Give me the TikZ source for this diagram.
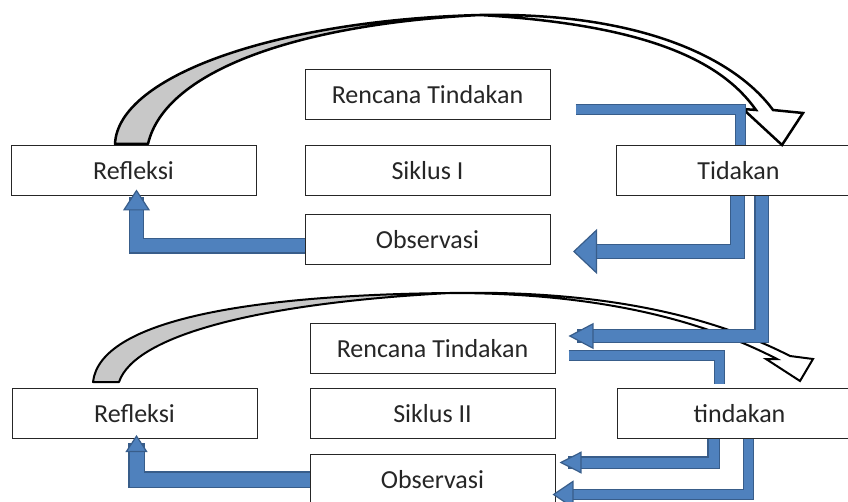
\documentclass[tikz,border=0pt]{standalone}
\usepackage{fontspec}
\setmainfont{Carlito}
\usetikzlibrary{arrows.meta,positioning,calc}
\definecolor{biru}{RGB}{79,129,189}
\definecolor{birutua}{RGB}{56,93,138}
\definecolor{abu}{RGB}{200,200,200}

\begin{document}
\begin{tikzpicture}[x=1pt,y=-1pt,every node/.style={font=\fontsize{26}{30}\selectfont}]
\tikzstyle{k}=[draw=black!85,line width=1pt,fill=white,minimum width=245pt,minimum height=50pt,inner sep=0pt,text=black!85]
\tikzstyle{lk}=[draw=black,line width=2.5pt,line join=round]
\tikzstyle{gb}=[draw=biru,line width=9pt,line cap=butt,line join=miter,preaction={draw=birutua,line width=11pt}]
\tikzset{pa/.style n args={3}{draw=biru,line width=#1,line cap=butt,line join=miter,
  -{Triangle[length=#2,width=#3,line width=1.2pt,color=birutua,fill=biru]},
  preaction={draw=birutua,line width=#1+2.5pt,arrows=-,shorten >=8pt}}}
\useasboundingbox (0,0) rectangle (848,502);
\clip (0,0) rectangle (848,502);
% siklus I
\node[k] (rt1) at (427.5,95) {Rencana Tindakan};
\node[k,below=25pt of rt1] (sk1) {Siklus I};
\node[k,below=18pt of sk1] (ob1) {Observasi};
\node[k,left=48pt of sk1] (rf1) {Refleksi};
\node[k,right=65pt of sk1] (tk1) {Tidakan};
% siklus II
\node[k] (rt2) at (432.5,348.5) {Rencana Tindakan};
\node[k,below=14pt of rt2] (sk2) {Siklus II};
\node[k,below=15pt of sk2] (ob2) {Observasi};
\node[k,left=52pt of sk2] (rf2) {Refleksi};
\node[k,right=61pt of sk2] (tk2) {tindakan};
% panah lengkung
\filldraw[lk,fill=abu] (115,144) .. controls (118,75) and (280,20) .. (480,15) .. controls (300,24) and (165,70) .. (148,144) -- cycle;
\filldraw[lk,fill=white,line join=miter] (480,15) .. controls (640,12) and (735,58) .. (773,110) -- (803,113) -- (782,145) -- (743,109) -- (756,110) .. controls (722,62) and (650,25) .. (480,15) -- cycle;
\filldraw[lk,line width=2pt,fill=abu] (93,382) .. controls (100,320) and (250,295) .. (450,293) .. controls (260,303) and (135,335) .. (119,382) -- cycle;
\filldraw[lk,line width=2pt,fill=white,line join=miter] (450,293) .. controls (600,290) and (710,315) .. (790,356) -- (813,359) -- (800,381) -- (766,359) -- (777,359) .. controls (705,322) and (605,293) .. (450,293) -- cycle;
% panah biru
\draw[gb] ([xshift=25pt,yshift=-15pt]rt1.east) -| ([xshift=1.5pt]tk1.north);
\draw[pa={13pt}{24pt}{45pt}] ([xshift=-1pt]tk1.south) |- ([xshift=22.5pt,yshift=-11.5pt]ob1.east);
\draw[pa={12pt}{25pt}{26pt}] ([xshift=23pt]tk1.south) |- ([xshift=13pt,yshift=12.5pt]rt2.east);
\draw[pa={13pt}{21pt}{27pt}] ([yshift=-6pt]ob1.west) -| ([xshift=3pt,yshift=7pt]rf1.south);
\draw[gb] ([xshift=13pt,yshift=-6.5pt]rt2.east) -| ([xshift=-20.5pt,yshift=4pt]tk2.north);
\draw[pa={10pt}{22pt}{22pt}] ([xshift=-26pt]tk2.south) |- ([xshift=4pt,yshift=17pt]ob2.east);
\draw[pa={9pt}{21pt}{28pt}] ([xshift=9pt]tk2.south) |- ([xshift=-3pt,yshift=-15pt]ob2.east);
\draw[pa={14pt}{17pt}{22pt}] (ob2.west) -| ([xshift=2pt,yshift=4pt]rf2.south);
\end{tikzpicture}
\end{document}
